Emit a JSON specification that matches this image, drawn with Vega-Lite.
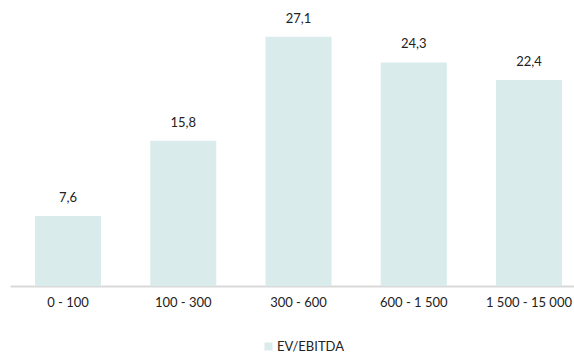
{
  "$schema": "https://vega.github.io/schema/vega-lite/v6.json",
  "width": 577,
  "height": 276,
  "padding": {"left": 10, "top": 10, "right": 0, "bottom": 0},
  "background": "white",
  "config": {
    "view": {"stroke": null},
    "font": "Lato",
    "locale": {"number": {"decimal": ",", "thousands": " ", "grouping": [3], "currency": ["", ""]}}
  },
  "data": {
    "values": [
      {"range": "0 - 100", "value": 7.6, "series": "EV/EBITDA"},
      {"range": "100 - 300", "value": 15.8, "series": "EV/EBITDA"},
      {"range": "300 - 600", "value": 27.1, "series": "EV/EBITDA"},
      {"range": "600 - 1 500", "value": 24.3, "series": "EV/EBITDA"},
      {"range": "1 500 - 15 000", "value": 22.4, "series": "EV/EBITDA"}
    ]
  },
  "encoding": {
    "x": {
      "field": "range",
      "type": "nominal",
      "sort": null,
      "scale": {"paddingInner": 0.427, "paddingOuter": 0.217},
      "axis": {
        "title": null,
        "labelAngle": 0,
        "ticks": false,
        "labelPadding": 10,
        "labelFontSize": 13,
        "labelColor": "#222222",
        "labelFont": "Lato",
        "domainColor": "#d9d9d9",
        "domainWidth": 2
      }
    },
    "y": {
      "field": "value",
      "type": "quantitative",
      "scale": {"domain": [0, 30]},
      "axis": null
    }
  },
  "layer": [
    {
      "mark": {"type": "bar", "color": "#d9ebea"},
      "encoding": {
        "color": {
          "field": "series",
          "type": "nominal",
          "scale": {"range": ["#d9ebea"]},
          "legend": {
            "title": null,
            "orient": "none",
            "legendX": 252,
            "legendY": 330,
            "symbolType": "square",
            "symbolSize": 64,
            "labelFontSize": 13,
            "labelColor": "#222222",
            "labelFont": "Lato",
            "labelOffset": 2
          }
        }
      }
    },
    {
      "mark": {"type": "text", "baseline": "bottom", "dy": -11, "fontSize": 13, "color": "#222222", "font": "Lato"},
      "encoding": {
        "text": {"field": "value", "type": "quantitative", "format": ".1f"}
      }
    }
  ]
}
